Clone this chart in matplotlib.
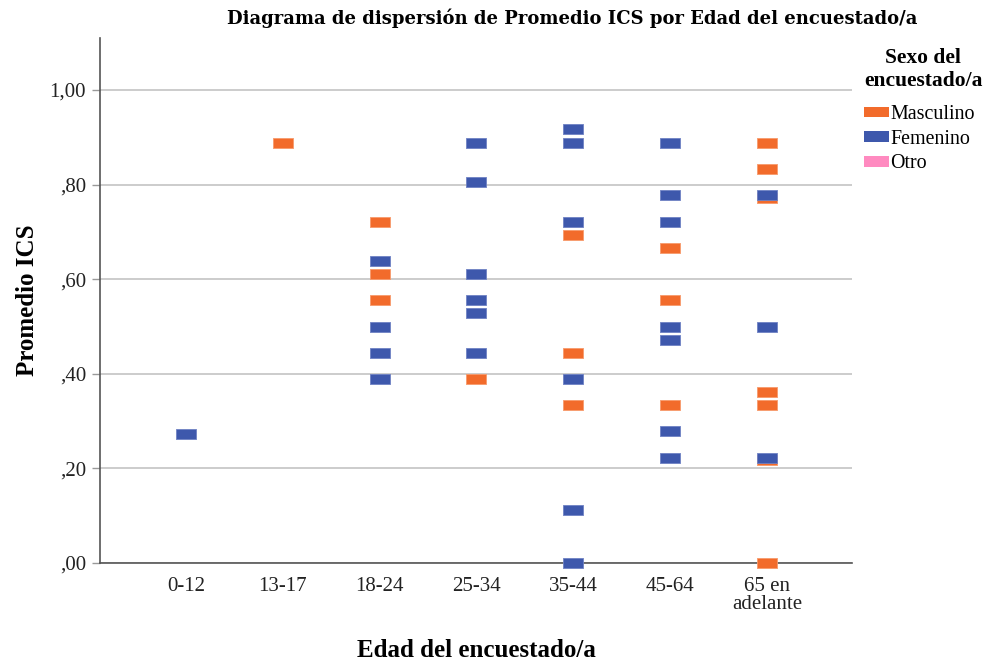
"""Scatter of Promedio ICS by age group, split by sex."""
import matplotlib
matplotlib.use("Agg")
import matplotlib.pyplot as plt
from matplotlib.patches import Patch

CATEGORIES = ["0-12", "13-17", "18-24", "25-34", "35-44", "45-64", "65 en\nadelante"]
Y_TICKS = [0.0, 0.2, 0.4, 0.6, 0.8, 1.0]
Y_TICK_LABELS = [",00", ",20", ",40", ",60", ",80", "1,00"]

# (category index, Promedio ICS)
MASC_X = [1, 2, 2, 2, 3, 4, 4, 4, 5, 5, 5, 6, 6, 6, 6, 6, 6, 6]
MASC_Y = [0.889, 0.722, 0.611, 0.556, 0.389, 0.694, 0.444, 0.333,
          0.667, 0.556, 0.333, 0.889, 0.833, 0.772, 0.361, 0.333, 0.218, 0.0]
FEM_X = [0, 2, 2, 2, 2, 3, 3, 3, 3, 3, 3, 4, 4, 4, 4, 4, 4,
         5, 5, 5, 5, 5, 5, 5, 6, 6, 6]
FEM_Y = [0.273, 0.639, 0.5, 0.444, 0.389, 0.889, 0.806, 0.611, 0.556, 0.528, 0.444,
         0.917, 0.889, 0.722, 0.389, 0.111, 0.0,
         0.889, 0.778, 0.722, 0.5, 0.472, 0.278, 0.222, 0.778, 0.5, 0.222]

COLORS = {
    "masc": "#f26b2b",
    "fem": "#3e58ac",
    "otro": "#ff8ac0",
    "grid": "#c8c8c8",
    "spine": "#555555",
    "text": "#222222",
}

SERIF = ["Liberation Serif", "DejaVu Serif"]

# flat rectangle marker, wider than tall
RECT = [(-1, -0.55), (1, -0.55), (1, 0.55), (-1, 0.55), (-1, -0.55)]

fig = plt.figure(figsize=(9.85, 6.61), dpi=100, facecolor="white")
ax = fig.add_axes([0.1015, 0.1483, 0.7635, 0.7942])

ax.scatter(MASC_X, MASC_Y, marker=RECT, s=200, color=COLORS["masc"],
           edgecolor="#f79a6c", linewidth=0.6, zorder=3, clip_on=False)
ax.scatter(FEM_X, FEM_Y, marker=RECT, s=200, color=COLORS["fem"],
           edgecolor="#6f82c4", linewidth=0.6, zorder=3, clip_on=False)

ax.set_xlim(-0.89, 6.88)
ax.set_ylim(0, 1.11)
ax.set_xticks(range(len(CATEGORIES)))
ax.set_xticklabels(CATEGORIES, family=SERIF, fontsize=15, color=COLORS["text"],
                   linespacing=0.95)
ax.set_yticks(Y_TICKS)
ax.set_yticklabels(Y_TICK_LABELS, family=SERIF, fontsize=15, color=COLORS["text"])
ax.tick_params(axis="x", length=0, pad=10)
ax.tick_params(axis="y", length=6, width=1, color="#999999", pad=4)

ax.grid(axis="y", color=COLORS["grid"], linewidth=1.3)
ax.set_axisbelow(True)
for side in ("top", "right"):
    ax.spines[side].set_visible(False)
for side in ("left", "bottom"):
    ax.spines[side].set_color(COLORS["spine"])
    ax.spines[side].set_linewidth(1.2)

ax.set_ylabel("Promedio ICS", family=SERIF, fontsize=18, fontweight="bold",
              color="black", va="center")
ax.yaxis.set_label_coords(-0.097, 0.5)
ax.set_xlabel("Edad del encuestado/a", family=SERIF, fontsize=18, fontweight="bold",
              color="black", va="center")
ax.xaxis.set_label_coords(0.5, -0.166)

fig.text(0.581, 0.972, "Diagrama de dispersión de Promedio ICS por Edad del encuestado/a",
         family=["DejaVu Serif"], fontsize=13, fontweight="bold",
         ha="center", va="center", color="black")

handles = [
    Patch(facecolor=COLORS["masc"], edgecolor="none", label="Masculino"),
    Patch(facecolor=COLORS["fem"], edgecolor="none", label="Femenino"),
    Patch(facecolor=COLORS["otro"], edgecolor="none", label="Otro"),
]
leg = fig.legend(handles=handles, title="Sexo del\nencuestado/a",
                 loc="upper left", bbox_to_anchor=(0.877, 0.928),
                 frameon=False, prop={"family": SERIF, "size": 14.4},
                 title_fontproperties={"family": SERIF, "size": 15.5, "weight": "bold"},
                 handlelength=1.25, handleheight=0.45, handletextpad=0.08,
                 labelspacing=0.28, borderaxespad=0, borderpad=0,
                 alignment="left")
leg.get_title().set_multialignment("center")
# extra room between the legend title and its entries
leg._legend_box.sep = 10.5

fig.savefig("out.png", dpi=100, facecolor="white")
